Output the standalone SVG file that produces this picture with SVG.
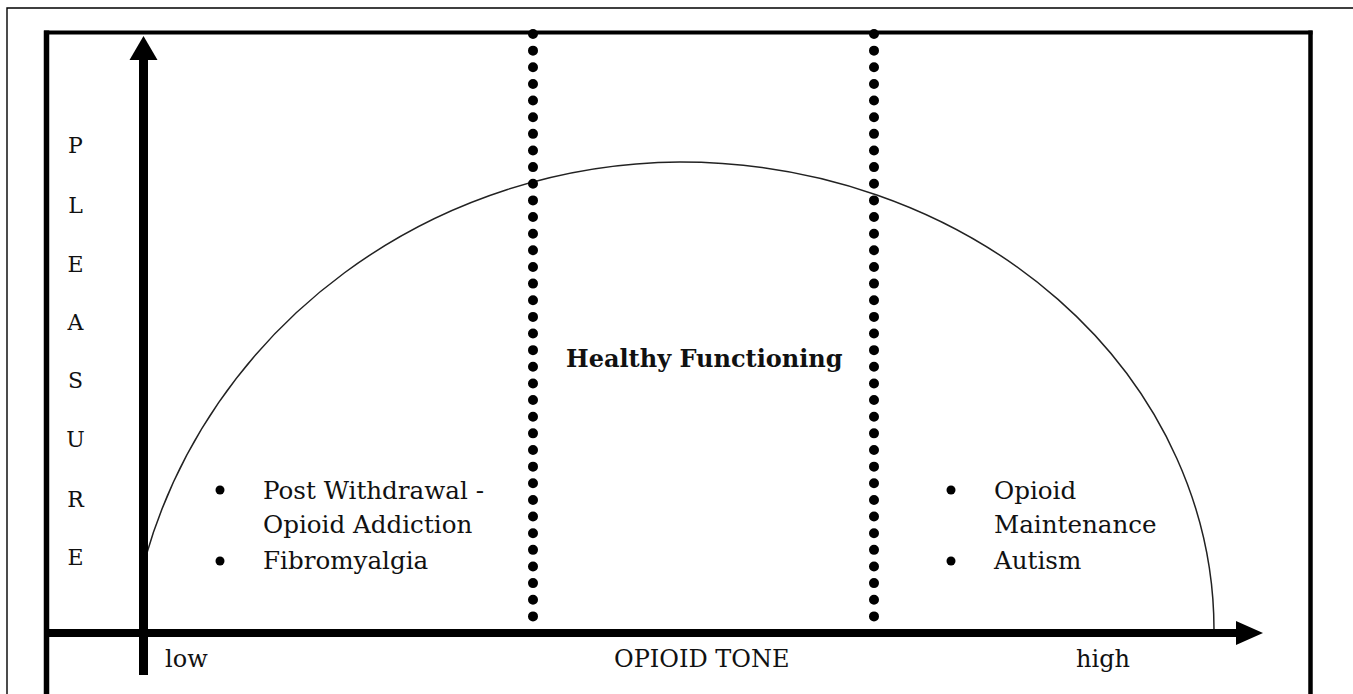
<svg xmlns="http://www.w3.org/2000/svg" width="1353" height="694" viewBox="0 0 1353 694">
<style>
text{font-family:"DejaVu Serif","Liberation Serif",serif;fill:#111}
.t{font-size:24.6px}
.ax{font-size:24px}
.pl{font-size:22px;text-anchor:middle}
.hf{font-size:24px;font-weight:bold}
.dots{stroke:#000;stroke-width:10;stroke-linecap:round;stroke-dasharray:0 16.64;fill:none}
.blt{fill:#000}
</style>
<rect width="1353" height="694" fill="#fff"/>
<g id="frame" fill="none" stroke="#000">
<path d="M7,694 V8 H1353" stroke-width="1.4"/>
<line x1="46.5" y1="30.5" x2="46.5" y2="694" stroke-width="5.5"/>
<line x1="44" y1="32.5" x2="1312.5" y2="32.5" stroke-width="4"/>
<line x1="1310.5" y1="30.5" x2="1310.5" y2="694" stroke-width="4.5"/>
</g>
<g id="curve">
<path d="M146,556 A558,538 0 0 1 680,162 A534,468 0 0 1 1214,631" fill="none" stroke="#222" stroke-width="1.5"/>
</g>
<g id="connectors">
<line class="dots" x1="533" y1="34" x2="533" y2="633"/>
<line class="dots" x1="874" y1="34" x2="874" y2="633"/>
<line x1="143.5" y1="58" x2="143.5" y2="675" stroke="#000" stroke-width="9"/>
<polygon points="143.5,36 157.5,60 129.5,60" fill="#000"/>
<line x1="44" y1="633" x2="1238" y2="633" stroke="#000" stroke-width="8"/>
<polygon points="1263,633 1236,621 1236,645" fill="#000"/>
</g>
<g id="y-label">
<text class="pl" x="75.5" y="153">P</text>
<text class="pl" x="75.5" y="213">L</text>
<text class="pl" x="75.5" y="272">E</text>
<text class="pl" x="75.5" y="330">A</text>
<text class="pl" x="75.5" y="388">S</text>
<text class="pl" x="75.5" y="447">U</text>
<text class="pl" x="75.5" y="507">R</text>
<text class="pl" x="75.5" y="565">E</text>
</g>
<g id="x-labels">
<text class="ax" x="165" y="667">low</text>
<text class="ax" x="614" y="667">OPIOID TONE</text>
<text class="ax" x="1076" y="667">high</text>
</g>
<g id="node-left">
<circle class="blt" cx="220" cy="490" r="4.5"/>
<circle class="blt" cx="220" cy="561" r="4.5"/>
<text class="t" x="263" y="499">Post Withdrawal -</text>
<text class="t" x="263" y="533">Opioid Addiction</text>
<text class="t" x="263" y="569">Fibromyalgia</text>
</g>
<g id="node-center">
<text class="hf" x="566" y="367">Healthy Functioning</text>
</g>
<g id="node-right">
<circle class="blt" cx="951" cy="490" r="4.5"/>
<circle class="blt" cx="951" cy="561" r="4.5"/>
<text class="t" x="994" y="499">Opioid</text>
<text class="t" x="994" y="533">Maintenance</text>
<text class="t" x="994" y="569">Autism</text>
</g>
</svg>
